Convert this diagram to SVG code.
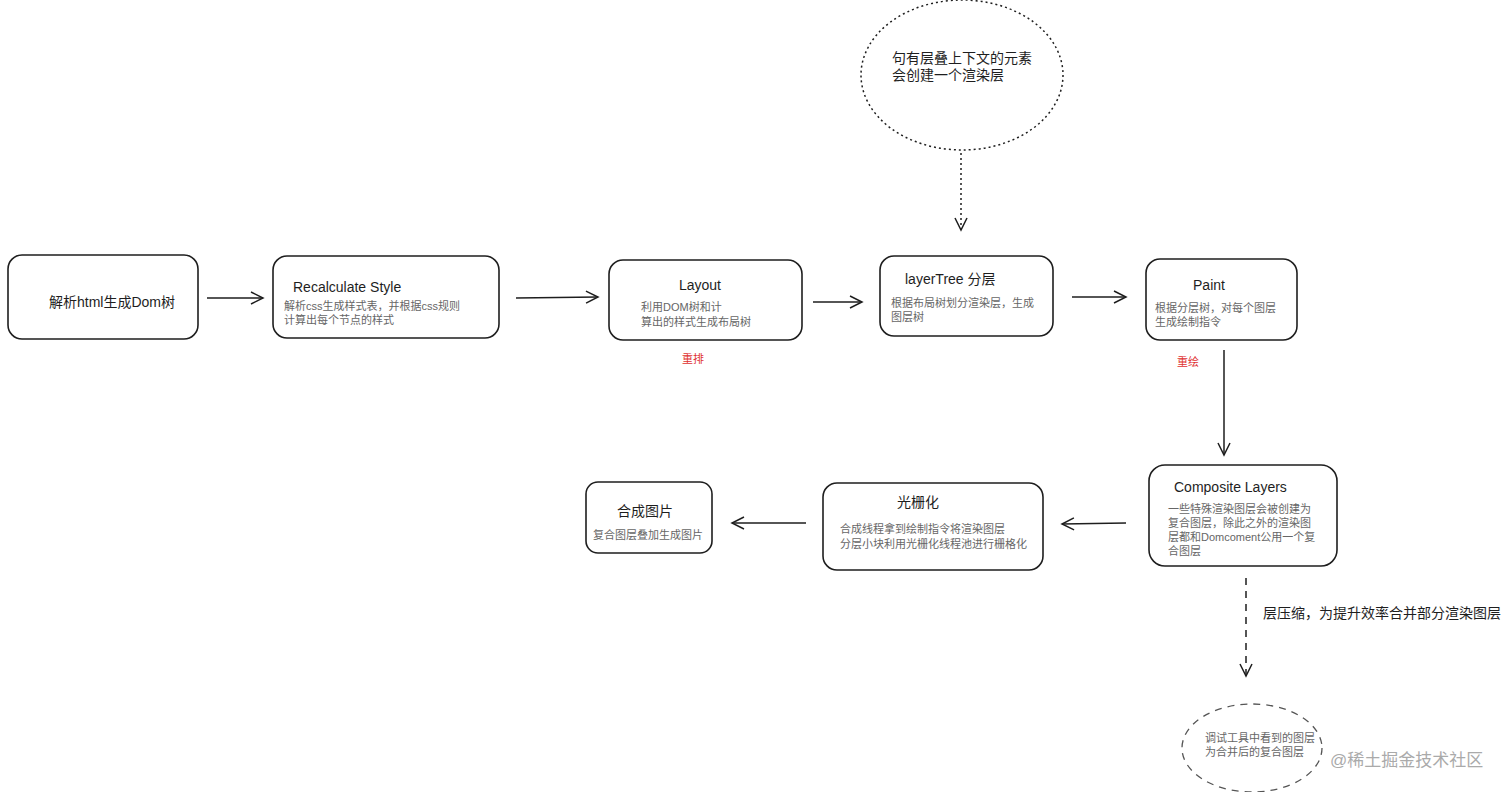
<svg xmlns="http://www.w3.org/2000/svg" width="1512" height="792" viewBox="0 0 1512 792">
<style>
text{font-family:"Liberation Sans","Noto Sans CJK SC",sans-serif}
.box{fill:#fff;stroke:#1e1e1e;stroke-width:1.6}
.t{font-size:14px;fill:#1e1e1e}
.s{font-size:11px;fill:#666}
.r{font-size:11px;fill:#e03131}
.c{stroke:#1e1e1e;stroke-width:1.5;fill:none}
</style>
<defs>
<marker id="a" markerWidth="16" markerHeight="16" refX="13" refY="8" orient="auto" markerUnits="userSpaceOnUse">
<path d="M1 2 L13 8 L1 14" fill="none" stroke="#1e1e1e" stroke-width="1.5"/>
</marker>
</defs>
<rect width="1512" height="792" fill="#fff"/>
<g id="connectors">
<line class="c" x1="207" y1="298" x2="263" y2="298" marker-end="url(#a)"/>
<line class="c" x1="516" y1="298" x2="598" y2="297" marker-end="url(#a)"/>
<line class="c" x1="813" y1="302" x2="862" y2="302" marker-end="url(#a)"/>
<line class="c" x1="1072" y1="297" x2="1126" y2="297" marker-end="url(#a)"/>
<line class="c" x1="1224" y1="350" x2="1224" y2="455" marker-end="url(#a)"/>
<line class="c" x1="1126" y1="523" x2="1062" y2="524" marker-end="url(#a)"/>
<line class="c" x1="806" y1="523" x2="732" y2="523" marker-end="url(#a)"/>
<line class="c" x1="961" y1="153" x2="961" y2="230" stroke-dasharray="2 3" marker-end="url(#a)"/>
<line class="c" x1="1246" y1="578" x2="1246" y2="676" stroke-dasharray="7 6" stroke="#555" marker-end="url(#a)"/>
<text x="1263" y="618" class="t">层压缩，为提升效率合并部分渲染图层</text>
</g>
<g id="n1"><rect class="box" x="8" y="255" width="190" height="84" rx="14"/><text x="112" y="307" class="t" text-anchor="middle">解析html生成Dom树</text></g>
<g id="n2"><rect class="box" x="273" y="256" width="226" height="82" rx="14"/><text x="293" y="292" class="t">Recalculate Style</text><text x="284" y="310" class="s">解析css生成样式表，并根据css规则</text><text x="284" y="324" class="s">计算出每个节点的样式</text></g>
<g id="n3"><rect class="box" x="609" y="260" width="193" height="80" rx="14"/><text x="700" y="290" class="t" text-anchor="middle">Layout</text><text x="641" y="311" class="s">利用DOM树和计</text><text x="641" y="326" class="s">算出的样式生成布局树</text><text x="693" y="363" class="r" text-anchor="middle">重排</text></g>
<g id="n4"><rect class="box" x="880" y="256" width="173" height="80" rx="14"/><text x="905" y="284" class="t">layerTree 分层</text><text x="891" y="307" class="s">根据布局树划分渲染层，生成</text><text x="891" y="321" class="s">图层树</text></g>
<g id="n5"><rect class="box" x="1146" y="259" width="151" height="81" rx="14"/><text x="1209" y="290" class="t" text-anchor="middle">Paint</text><text x="1155" y="312" class="s">根据分层树，对每个图层</text><text x="1155" y="326" class="s">生成绘制指令</text><text x="1188" y="366" class="r" text-anchor="middle">重绘</text></g>
<g id="n6"><rect class="box" x="1149" y="465" width="188" height="101" rx="16"/><text x="1174" y="492" class="t">Composite Layers</text><text x="1168" y="513" class="s">一些特殊渲染图层会被创建为</text><text x="1168" y="527" class="s">复合图层，除此之外的渲染图</text><text x="1168" y="541" class="s">层都和Domcoment公用一个复</text><text x="1168" y="555" class="s">合图层</text></g>
<g id="n7"><rect class="box" x="823" y="483" width="220" height="87" rx="14"/><text x="918" y="507" class="t" text-anchor="middle">光栅化</text><text x="840" y="533" class="s">合成线程拿到绘制指令将渲染图层</text><text x="840" y="548" class="s">分层小块利用光栅化线程池进行栅格化</text></g>
<g id="n8"><rect class="box" x="586" y="482" width="126" height="71" rx="12"/><text x="645" y="516" class="t" text-anchor="middle">合成图片</text><text x="648" y="539" class="s" text-anchor="middle">复合图层叠加生成图片</text></g>
<g id="n9"><ellipse cx="962" cy="75" rx="101" ry="75" fill="#fff" stroke="#1e1e1e" stroke-width="1.5" stroke-dasharray="2 3"/><text x="892" y="63" class="t">句有层叠上下文的元素</text><text x="892" y="80" class="t">会创建一个渲染层</text></g>
<g id="n10"><ellipse cx="1252" cy="748" rx="70" ry="44" fill="#fff" stroke="#555" stroke-width="1.3" stroke-dasharray="7 6"/><text x="1205" y="742" class="s">调试工具中看到的图层</text><text x="1205" y="756" class="s">为合并后的复合图层</text></g>
<text x="1330" y="766" font-size="17" fill="#aaa">@稀土掘金技术社区</text>
</svg>
